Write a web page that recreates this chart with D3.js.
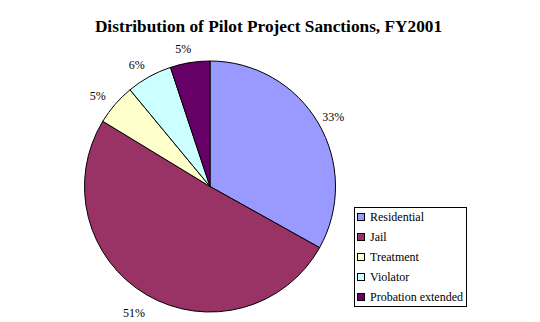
<!DOCTYPE html>
<html>
<head>
<meta charset="utf-8">
<script src="https://cdn.jsdelivr.net/npm/d3@7"></script>
<style>
    body { margin: 0; background: #fff; }
    svg text { font-family: "Liberation Serif", "Times New Roman", serif; fill: #000; }
</style>
</head>
<body>
<div id="chart"></div>
<script>
// sanction categories, in the order they run clockwise from 12 o'clock
let categories = ["Residential", "Jail", "Treatment", "Violator", "Probation extended"];
let shares = [33.1, 50.6, 5.3, 5.9, 5.1];
let labels = ["33%", "51%", "5%", "6%", "5%"];
let colors = ["#9999ff", "#993366", "#ffffcc", "#ccffff", "#660066"];

function sanctionpie() {
    let width = 540,
        height = 322,
        cx = 210,
        cy = 186.5,
        radius = 125.5;

    let svg = d3.select("#chart")
        .append("svg")
        .attr("width", width)
        .attr("height", height);

    svg.append("text")
        .attr("x", 268.5)
        .attr("y", 32)
        .attr("text-anchor", "middle")
        .style("font-size", "17.3px")
        .style("font-weight", 700)
        .text("Distribution of Pilot Project Sanctions, FY2001");

    let pie = d3.pie()
        .sort(null)
        .value(function (d) { return d; });

    let arcs = pie(shares);

    let arc = d3.arc()
        .innerRadius(0)
        .outerRadius(radius);

    let labelArc = d3.arc()
        .innerRadius(143)
        .outerRadius(143);

    let g = svg.append("g")
        .attr("transform", "translate(" + cx + "," + cy + ")");

    g.selectAll(".slice")
        .data(arcs)
        .enter()
        .append("path")
        .attr("class", "slice")
        .attr("d", arc)
        .style("fill", function (d, i) { return colors[i]; })
        .style("stroke", "#000")
        .style("stroke-width", 1);

    g.selectAll(".pctlabel")
        .data(arcs)
        .enter()
        .append("text")
        .attr("class", "pctlabel")
        .attr("transform", function (d) {
            let c = labelArc.centroid(d);
            // labels on the left sit a little further out
            let shift = c[0] < 0 ? -4 : 0;
            return "translate(" + (c[0] + shift) + "," + (c[1] + 3) + ")";
        })
        .attr("dy", "0.35em")
        .attr("text-anchor", "middle")
        .style("font-size", "12px")
        .text(function (d, i) { return labels[i]; });

    // legend
    let legend = svg.append("g")
        .attr("transform", "translate(354,207)");

    legend.append("rect")
        .attr("x", 0.5)
        .attr("y", 0.5)
        .attr("width", 112)
        .attr("height", 99)
        .style("fill", "#fff")
        .style("stroke", "#000")
        .style("stroke-width", 1);

    let item = legend.selectAll(".legenditem")
        .data(categories)
        .enter()
        .append("g")
        .attr("class", "legenditem")
        .attr("transform", function (d, i) {
            return "translate(0," + (10 + i * 20) + ")";
        });

    item.append("rect")
        .attr("x", 3.5)
        .attr("y", -3.5)
        .attr("width", 7)
        .attr("height", 7)
        .style("fill", function (d, i) { return colors[i]; })
        .style("stroke", "#000")
        .style("stroke-width", 1);

    item.append("text")
        .attr("x", 16)
        .attr("y", 0)
        .attr("dy", "0.35em")
        .style("font-size", "12px")
        .text(function (d) { return d; });
}

sanctionpie();
</script>
</body>
</html>
